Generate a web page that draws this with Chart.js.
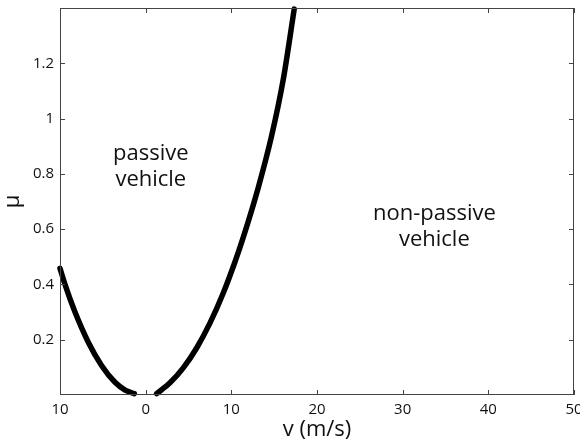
<!DOCTYPE html>
<html>
<head>
<meta charset="utf-8">
<script src="https://cdn.jsdelivr.net/npm/chart.js@4/dist/chart.umd.min.js"></script>
<style>
  body { margin: 0; background: #fff; }
  canvas { display: block; }
</style>
</head>
<body>
<canvas id="chart" width="580" height="443"></canvas>
<script>
// boundary curve, left branch (v < 0)
const leftV  = [-10, -9.42, -8.25, -6.7, -5.13, -3.58, -2.4, -1.33];
const leftMu = [0.458, 0.40, 0.30, 0.191, 0.106, 0.046, 0.018, 0.005];

// boundary curve, right branch (v > 0)
const rightV  = [1.28, 2.84, 4.39, 5.95, 7.5, 9.06, 10.42, 11.39, 13.14, 14.7, 16.06, 17.34];
const rightMu = [0.005, 0.044, 0.098, 0.17, 0.26, 0.369, 0.481, 0.57, 0.75, 0.937, 1.141, 1.396];

const xTicks = [-10, 0, 10, 20, 30, 40, 50];
const xTickLabels = ['10', '0', '10', '20', '30', '40', '50'];
const yTicks = [0.2, 0.4, 0.6, 0.8, 1, 1.2];
const yTickLabels = ['0.2', '0.4', '0.6', '0.8', '1', '1.2'];

const regionLabels = [
    { lines: ['passive', 'vehicle'], v: 0.6, mu: 0.85 },
    { lines: ['non-passive', 'vehicle'], v: 33.7, mu: 0.633 }
];

const FONT = '"Open Sans", "DejaVu Sans", sans-serif';
const AXIS = '#444';

function pts(xs, ys) {
    return xs.map((x, i) => ({ x: x, y: ys[i] }));
}

// MATLAB-like box with inward tick marks
const frame = {
    id: 'frame',
    afterDraw(c) {
        const { ctx, chartArea: a, scales } = c;
        ctx.save();
        ctx.strokeStyle = AXIS;
        ctx.lineWidth = 1;
        ctx.strokeRect(a.left + 0.5, a.top + 0.5, a.right - a.left - 1, a.bottom - a.top - 1);
        ctx.beginPath();
        xTicks.forEach(v => {
            const x = Math.round(scales.x.getPixelForValue(v)) + 0.5;
            ctx.moveTo(x, a.bottom); ctx.lineTo(x, a.bottom - 5);
            ctx.moveTo(x, a.top); ctx.lineTo(x, a.top + 5);
        });
        yTicks.forEach(v => {
            const y = Math.round(scales.y.getPixelForValue(v)) + 0.5;
            ctx.moveTo(a.left, y); ctx.lineTo(a.left + 5, y);
            ctx.moveTo(a.right, y); ctx.lineTo(a.right - 5, y);
        });
        ctx.stroke();
        ctx.restore();
    }
};

const labels = {
    id: 'labels',
    afterDatasetsDraw(c) {
        const { ctx, scales } = c;
        ctx.save();
        ctx.font = '22px ' + FONT;
        ctx.fillStyle = '#111';
        ctx.textAlign = 'center';
        ctx.textBaseline = 'alphabetic';
        regionLabels.forEach(l => {
            const x = scales.x.getPixelForValue(l.v);
            const y = scales.y.getPixelForValue(l.mu);
            l.lines.forEach((t, i) => ctx.fillText(t, x, y + i * 26));
        });
        ctx.restore();
    }
};

const line = {
    showLine: true,
    borderColor: '#000',
    backgroundColor: '#000',
    borderWidth: 5.5,
    borderCapStyle: 'round',
    borderJoinStyle: 'round',
    pointRadius: 0,
    cubicInterpolationMode: 'monotone',
    clip: 4
};

new Chart(document.getElementById('chart'), {
    type: 'scatter',
    data: {
        datasets: [
            Object.assign({ data: pts(leftV, leftMu) }, line),
            Object.assign({ data: pts(rightV, rightMu) }, line)
        ]
    },
    options: {
        responsive: false,
        animation: false,
        devicePixelRatio: 1,
        layout: { padding: { top: 8, right: 6, left: 0, bottom: 0 } },
        plugins: { legend: { display: false }, tooltip: { enabled: false } },
        scales: {
            x: {
                type: 'linear',
                min: -10,
                max: 50,
                afterBuildTicks: s => { s.ticks = xTicks.map(v => ({ value: v })); },
                afterFit: s => { s.height = 48; s.paddingLeft = 0; s.paddingRight = 0; },
                grid: { display: false, drawTicks: false },
                border: { display: false },
                ticks: {
                    padding: 6,
                    color: '#111',
                    font: { family: FONT, size: 15 },
                    maxRotation: 0,
                    callback: v => xTickLabels[xTicks.indexOf(v)]
                },
                title: {
                    display: true,
                    text: 'v (m/s)',
                    color: '#111',
                    font: { family: FONT, size: 22 },
                    padding: { top: 0, bottom: 0 }
                }
            },
            y: {
                type: 'linear',
                min: 0,
                max: 1.4,
                afterBuildTicks: s => { s.ticks = yTicks.map(v => ({ value: v })); },
                afterFit: s => { s.width = 60; s.paddingTop = 0; s.paddingBottom = 0; },
                grid: { display: false, drawTicks: false },
                border: { display: false },
                ticks: {
                    padding: 6,
                    color: '#111',
                    font: { family: FONT, size: 15 },
                    callback: v => yTickLabels[yTicks.indexOf(v)]
                },
                title: {
                    display: true,
                    text: 'μ',
                    color: '#111',
                    font: { family: FONT, size: 22 },
                    padding: { top: 0, bottom: 5 }
                }
            }
        }
    },
    plugins: [frame, labels]
});
</script>
</body>
</html>
